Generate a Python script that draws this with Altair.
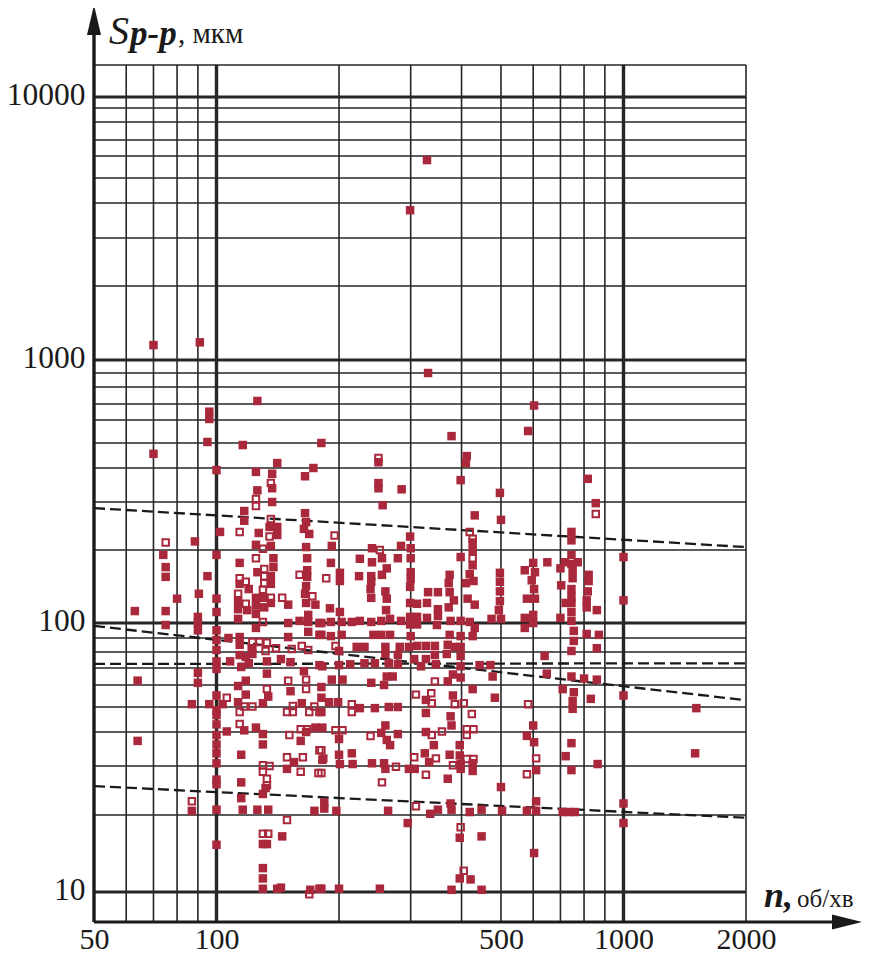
import altair as alt
import pandas as pd

# speed n (rev/min), displacement S (um); solid squares
filled_a = [(126,331),(137,337),(137,300),(117,278),(117,256),(165,273),(166,253),(164,239),(135,243),(141,243),(141,227),(127,231),(169,229),(102,233),(88.5,215),(125,209),(136,207),(166,205),(74,191),(100,191),(138,185),(167,185),(114,177),(75,170),(75,155),(95,156),(138,170),(126,162),(167,165),(136,156),(167,155),(114,145),(136,145),(166,142),(120,138),(90.5,132),(80,126),(100,126),(125,127),(131,127),(165,132),(113,123),(136,121),(166,121),(125,118),(131,116),(113,114),(119,113),(150,119),(175,119),(63,112),(75,112),(100,111),(168,108),(90,106),(125,109),(113,104),(90,100),(75,98.6),(125,96.6),(150,100),(160,102),(168,101),(179,100),(90,95),(100,95),(168,94),(179,92),(107,90),(114,90.6),(150,90.6),(100,88.5),(114,85),(100,81.4),(122,82.6),(114,78),(118,76.8),(122.5,78.7),(100,74),(108,74),(120,72.8),(133,74),(144,75.4),(152,73.5),(115,70.6),(179,71.7),(100,69.4),(90,67),(133,66.5),(164,68),(64,62.4)]
filled_b = [(90,61.2),(113,59.5),(118,62.4),(118,55.4),(152,57),(134,54.5),(100,55),(87,51.2),(96,51.2),(103.5,51.2),(113,52),(130,51.6),(162,51.6),(100,48.6),(100,46.5),(100,42.8),(125,41.6),(117,40.6),(106,40.2),(100,39),(130,39.3),(175,41.6),(166,40),(161,37.1),(64,37.1),(100,36),(130,36),(100,33.4),(115,33),(100,30.7),(155,31),(149,29.3),(100,26.8),(100,25.8),(115,26.2),(132,25),(130,23.8),(115,23),(87,20.7),(100,20.9),(116,20.9),(126,20.9),(134,20.9),(174,20.7),(145,16.5),(100,15.3),(130,15.4),(133,15.4),(130,12.4),(130,11.3),(130,10.3),(141,10.3),(144,10.4),(170,10.2),(179,10.3)]
filled_c = [(250,352),(250,337),(285,334),(398,361),(497,324),(256,292),(431,268),(500,258),(299,224),(241,203),(192,207),(284,207),(300,203),(426,213),(426,200),(191,177),(225,184),(241,178),(255,185),(279,185),(300,185),(398,187),(426,173),(262,168),(600,177),(650,178),(497,161),(606,162),(572,165),(201,161),(224,156),(240,156),(255,158),(300,162),(300,152),(374,158),(419,159),(201,149),(240,148),(372,146),(410,146),(428,149),(497,148),(595,150),(239,138),(299,141),(260,135),(331,134),(350,134),(374,134),(497,135),(603,138),(240,127),(262,126),(383,124),(414,126),(497,123),(579,126),(606,126),(190,115),(201,111),(299,121),(311,120),(329,121),(372,116),(431,119),(350,114),(261,113),(494,113),(350,107),(299,106),(311,106),(329,105),(267,104),(474,104),(500,104),(572,105),(600,108),(181,100),(191,101),(203,101),(215,101),(225,102),(240,101),(254,102),(284,102),(299,99),(311,99),(376,102),(398,102),(419,101),(600,100),(348,98.6),(431,96.6),(572,96.6),(181,92),(191,91.2),(203,92),(243,92),(254,92),(267,92),(300,91.2),(374,92),(398,91.2),(426,91.2),(200,80.7),(221,83.5),(231,83.5),(260,83.5),(282,83.5),(297,83.5),(311,84.2),(327,84.2),(344,84.2),(370,85),(385,83.5),(398,83.5),(260,78.7),(279,78),(344,78),(368,78.7),(398,77.4),(640,77.4),(306,75.4),(327,75.4),(182,71),(200,71.7),(213,72.2),(231,72.8),(245,72.8),(265,72.8),(279,72.2),(318,71),(346,72.2),(398,71),(443,71.7),(471,71.7),(381,66),(648,66.5),(477,64.8),(262,64.8),(271,64.8),(192,63),(204,63),(398,64.2)]
filled_d = [(240,61.2),(258,60),(370,62),(181,59),(426,58),(181,54),(381,55),(483,54),(327,53),(189,52),(199,52),(225,49.5),(245,49.5),(265,50),(279,50),(181,47.8),(327,47.4),(376,46),(260,42.4),(378,42.4),(600,42.4),(182,41.6),(254,39.7),(279,39.3),(327,40),(200,37.7),(262,37.4),(267,35.8),(342,35.8),(396,35.8),(579,38.7),(603,36.7),(200,33),(215,33.4),(325,33.4),(374,33),(396,32.8),(182,31.6),(333,31),(426,30.7),(398,30.5),(201,30.5),(216,30.5),(241,30.7),(258,30.7),(260,29.3),(297,29.3),(307,29.3),(398,29.3),(426,28.8),(610,29),(370,27),(500,25.2),(610,22.4),(184,22.2),(184,21.1),(197,20.7),(264,20.7),(350,20.9),(376,22),(378,20.9),(419,20.5),(448,20.9),(503,20.7),(579,20.7),(610,20.7),(335,20.2),(295,18.6),(396,16.3),(448,16.5),(603,14.2),(396,11.3),(421,11.2),(181,10.3),(200,10.3),(252,10.3),(378,10.2),(448,10.2)]
filled_e = [(817,365),(855,297),(745,233),(745,217),(745,191),(1000,187),(718,178),(772,178),(745,175),(700,168),(750,165),(750,153),(821,158),(821,149),(703,143),(745,138),(817,135),(745,128),(812,124),(721,121),(745,121),(812,116),(860,113),(1000,124),(745,111),(700,105),(745,102),(755,94.6),(812,92.6),(870,92),(755,87.8),(860,82.6),(745,80.7),(745,64.8),(800,63.6),(860,63),(709,58),(755,56.5),(831,53.5),(1000,55),(750,52.5),(750,49.2),(1510,49.5),(745,36.4),(721,32.6),(1500,33.4),(864,30.5),(745,29),(1000,22),(709,20.5),(733,20.5),(759,20.5),(1000,18.6)]
filled_top = [(329,5800),(299,3770),(331,900),(70,1150),(91,1180),(126,717),(96,650),(96,606),(95,504),(116,491),(181,500),(70,454),(100,393),(141,418),(125,387),(137,381),(173,400),(165,373),(250,421),(378,528),(603,690),(583,550),(412,445),(410,418)]

# hollow squares
open_a = [(136,352),(125,308),(125,290),(136,260),(114,233),(135,224),(75,213),(130,202),(125,185),(131,167),(131,156),(114,153),(118,148),(131,146),(130,137),(160,158),(113,132),(136,127),(145,127),(172,129),(118,120),(130,101),(122.5,87),(127.5,87),(133,86.4),(122.5,82),(132,80.7),(140,82.6),(153,82),(162,84.2),(168,81.4),(150,62.4)]
open_b = [(166,63),(166,58),(133,58),(106,54),(117,50.2),(122.5,50.2),(154,50.4),(174,50.2),(149,47.8),(154,47.8),(169,47.8),(114,47.8),(179,47.8),(114,43),(161,41),(167,41),(151,39),(179,34.3),(149,32.3),(163,32.3),(130,30.2),(135,30),(130,28.6),(161,28.6),(178,28.3),(133,27),(133,25.6),(87,22.4),(149,19.1),(130,16.9),(134,16.9),(169,9.8)]
open_c = [(195,226),(252,200),(186,153),(419,233),(426,220),(426,185),(196,84.2),(250,437),(855,271),(344,62),(309,55.4),(337,56),(338,51.6),(215,51.2),(385,51.2),(405,51.6),(583,51.2),(215,47.8),(424,47),(196,40.6),(204,40.6),(239,38.7),(338,39),(358,40.2),(412,41),(428,41),(412,39),(181,34.3),(183,32),(306,32.3),(346,32),(412,31.8),(428,31.8),(381,30.2),(276,29.8),(610,32),(181,28.3),(327,27.9),(579,28),(255,26.2),(309,21.5),(398,17.9),(405,12.1)]

# dashed trend lines: end values at n = 50 and n = 2000
trend_n = [50, 2000]
trend_upper = [285, 205]
trend_mid = [98, 52.9]
trend_flat = [72.4, 72.8]
trend_lower = [25.4, 19.5]

x_major = [100, 1000]
x_minor = [50, 60, 70, 80, 90, 200, 300, 400, 500, 600, 700, 800, 900, 2000]
y_major = [10, 100, 1000, 10000]
y_minor = [20, 30, 40, 50, 60, 70, 80, 90, 200, 300, 400, 500, 600, 700, 800, 900,
           2000, 3000, 4000, 5000, 6000, 7000, 8000, 9000, 13000]
x_labels = [50, 100, 500, 1000, 2000]
y_labels = [10, 100, 1000, 10000]

FONT = "Liberation Serif"
INK = "#262626"
RED = "#A9283B"

W, H = 652, 857
xs = alt.Scale(type="log", domain=[50, 2000], range=[0, W], nice=False)
# the printed grid is hand-ruled: its lines sit slightly off a pure log spacing
ys = alt.Scale(
    type="log", nice=False,
    domain=[7.7, 10, 20, 30, 40, 50, 60, 70, 80, 90, 100, 200, 300, 400, 500, 600, 700, 800, 900,
            1000, 2000, 3000, 4000, 5000, 6000, 7000, 8000, 9000, 10000, 13000],
    range=[857, 827, 750, 701, 667, 642, 620, 603, 587, 573, 558, 485, 437, 403, 378, 355, 339, 322, 308,
           295, 221, 173, 138, 113, 91, 75, 57, 43, 32, 0],
)
x_axis = alt.Axis(values=x_labels, grid=False, ticks=False, domain=False, labelFont=FONT,
                  labelFontSize=30, labelColor="#1a1a1a", labelPadding=2, format="d",
                  labelFlush=False, labelOverlap=False)
y_axis = alt.Axis(values=y_labels, grid=False, ticks=False, domain=False, labelFont=FONT,
                  labelFontSize=31.5, labelColor="#1a1a1a", labelPadding=9, labelOffset=-2, format="d",
                  labelFlush=False, labelOverlap=False)
X = lambda f: alt.X(f, type="quantitative", scale=xs, axis=x_axis, title=None)
Y = lambda f: alt.Y(f, type="quantitative", scale=ys, axis=y_axis, title=None)


def pts(*groups):
    rows = [p for g in groups for p in g]
    return pd.DataFrame(rows, columns=["n", "s"])


grid_xm = alt.Chart(pd.DataFrame({"n": x_minor})).mark_rule(color=INK, strokeWidth=1.6).encode(x=X("n"))
grid_xM = alt.Chart(pd.DataFrame({"n": x_major})).mark_rule(color=INK, strokeWidth=3.4).encode(x=X("n"))
grid_ym = alt.Chart(pd.DataFrame({"s": y_minor})).mark_rule(color=INK, strokeWidth=1.6).encode(y=Y("s"))
grid_yM = alt.Chart(pd.DataFrame({"s": y_major})).mark_rule(color=INK, strokeWidth=3).encode(y=Y("s"))

trends = []
for vals in (trend_upper, trend_mid, trend_flat, trend_lower):
    trends.append(
        alt.Chart(pd.DataFrame({"n": trend_n, "s": vals}))
        .mark_line(color="#1a1a1a", strokeWidth=2.3, strokeDash=[11, 5])
        .encode(x=X("n"), y=Y("s"))
    )

solid = alt.Chart(pts(filled_a, filled_b, filled_c, filled_d, filled_e, filled_top)).mark_point(
    shape="square", filled=True, color=RED, size=72, opacity=1, strokeWidth=0
).encode(x=X("n"), y=Y("s"))
hollow = alt.Chart(pts(open_a, open_b, open_c)).mark_point(
    shape="square", filled=False, color=RED, size=42, opacity=1, strokeWidth=2
).encode(x=X("n"), y=Y("s"))

one = alt.Data(values=[{"a": 1}])
axis_y = alt.Chart(one).mark_rule(color="#1a1a1a", strokeWidth=3.4).encode(
    x=alt.value(0), y=alt.value(-35), y2=alt.value(H))
axis_x = alt.Chart(one).mark_rule(color="#1a1a1a", strokeWidth=3).encode(
    y=alt.value(H), x=alt.value(0), x2=alt.value(742))
arrow_y = alt.Chart(one).mark_point(filled=True, color="#1a1a1a", opacity=1, strokeWidth=0, size=4,
                                    shape="M -7 15 L 7 15 L 0 -15 Z").encode(x=alt.value(0), y=alt.value(-45))
arrow_x = alt.Chart(one).mark_point(filled=True, color="#1a1a1a", opacity=1, strokeWidth=0, size=4,
                                    shape="M -15 -7.5 L -15 7.5 L 15 0 Z").encode(x=alt.value(753), y=alt.value(H))


def caption(text, x, y, size, style="normal", weight="normal"):
    return alt.Chart(pd.DataFrame({"t": [text]})).mark_text(
        font=FONT, fontSize=size, fontStyle=style, fontWeight=weight, align="left", baseline="alphabetic",
        color="#1a1a1a",
    ).encode(x=alt.value(x), y=alt.value(y), text="t:N")


chart = alt.layer(
    grid_xm, grid_ym, grid_xM, grid_yM, *trends, hollow, solid, axis_y, axis_x, arrow_y, arrow_x,
    caption("S", 15, -21, 40, "italic"),
    caption("p-p", 36, -20, 35, "italic", "bold"),
    caption(", мкм", 84, -22, 29),
    caption("n,", 670, 842, 36, "italic", "bold"),
    caption("об/хв", 703, 842, 25),
).properties(
    width=W, height=H, padding={"left": 86, "top": 57, "right": 116, "bottom": 31},
    autosize=alt.AutoSizeParams(type="none"),
).configure_view(stroke=None)

chart.save("out.html", embed_options={"renderer": "svg", "actions": False})
